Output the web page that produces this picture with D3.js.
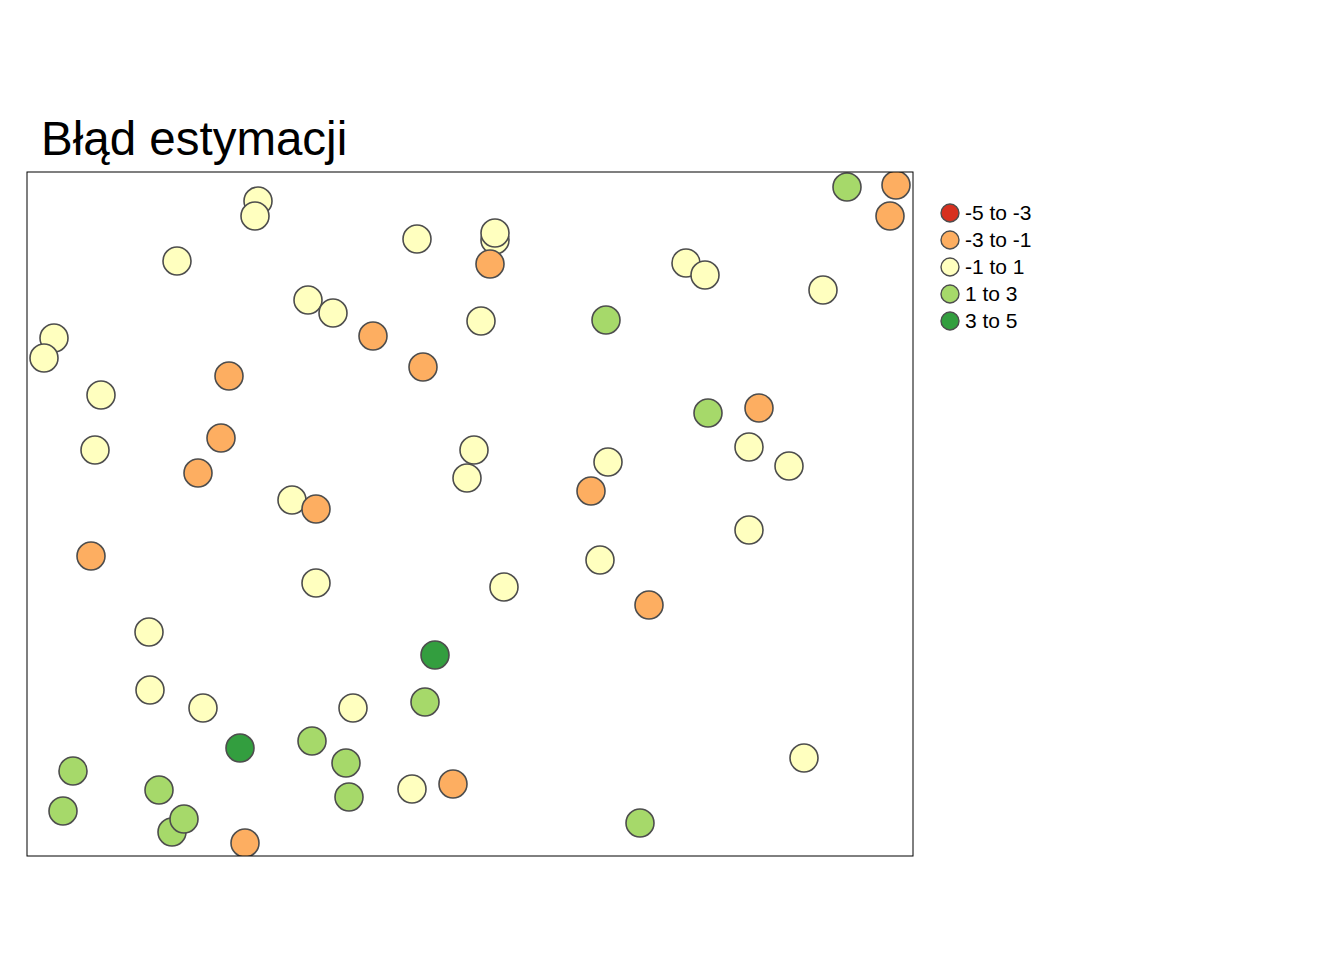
<!DOCTYPE html>
<html><head><meta charset="utf-8">
<script src="https://cdn.jsdelivr.net/npm/d3@7"></script>
<style>body{margin:0;background:#fff}</style>
</head><body>
<div id="chart"></div>
<script>
// Klasy legendy
const classes = ["-5 to -3", "-3 to -1", "-1 to 1", "1 to 3", "3 to 5"];
const colors = ["#d7301f", "#fdae61", "#ffffbf", "#a6d96a", "#339e3f"];

// Punkty (wsp. x, y w jednostkach mapy, klasa)
const px = [258,255,417,495,495,177,490,847,896,890,686,705,823,308,333,481,606,373,54,44,423,229,101,759,708,221,95,474,749,608,789,198,467,591,292,316,749,91,600,316,504,649,149,435,150,203,353,425,240,312,346,804,73,159,412,453,349,63,172,184,640,245];
const py = [201,216,239,240,233,261,264,187,185,216,263,275,290,300,313,321,320,336,338,358,367,376,395,408,413,438,450,450,447,462,466,473,478,491,500,509,530,556,560,583,587,605,632,655,690,708,708,702,748,741,763,758,771,790,789,784,797,811,832,819,823,843];
const pc = [2,2,2,2,2,2,1,3,1,1,2,2,2,2,2,2,3,1,2,2,1,1,2,1,3,1,2,2,2,2,2,1,2,1,2,1,2,1,2,2,2,1,2,4,2,2,2,3,4,3,3,2,3,3,2,1,3,3,3,3,3,1];

const width = 1344, height = 960;
const frame = { x0: 27, y0: 172, x1: 913, y1: 856 };

const svg = d3.select("#chart").append("svg")
    .attr("width", width).attr("height", height)
    .style("font-family", "Liberation Sans, Arial, sans-serif");

const xScale = d3.scaleLinear().domain([27, 913]).range([frame.x0, frame.x1]);
const yScale = d3.scaleLinear().domain([172, 856]).range([frame.y0, frame.y1]);

svg.append("text").attr("x", 41).attr("y", 155)
    .attr("font-size", 47.5).text("Błąd estymacji");

svg.append("clipPath").attr("id", "clip")
    .append("rect").attr("x", frame.x0).attr("y", frame.y0)
    .attr("width", frame.x1 - frame.x0).attr("height", frame.y1 - frame.y0);

svg.append("g").attr("clip-path", "url(#clip)")
    .selectAll("circle").data(d3.range(px.length)).enter().append("circle")
    .attr("cx", i => xScale(px[i])).attr("cy", i => yScale(py[i]))
    .attr("r", 14)
    .attr("fill", i => colors[pc[i]])
    .attr("stroke", "#4d4d4d").attr("stroke-width", 1.6);

svg.append("rect").attr("x", frame.x0).attr("y", frame.y0)
    .attr("width", frame.x1 - frame.x0).attr("height", frame.y1 - frame.y0)
    .attr("fill", "none").attr("stroke", "#000").attr("stroke-width", 1);

// Legenda
const leg = svg.append("g").selectAll("g").data(classes).enter().append("g")
    .attr("transform", (d, i) => `translate(950,${213 + i * 27})`);
leg.append("circle").attr("r", 9)
    .attr("fill", (d, i) => colors[i]).attr("stroke", "#4d4d4d").attr("stroke-width", 1.4);
leg.append("text").attr("x", 15).attr("y", 7).attr("font-size", 21).text(d => d);
</script>
</body></html>
